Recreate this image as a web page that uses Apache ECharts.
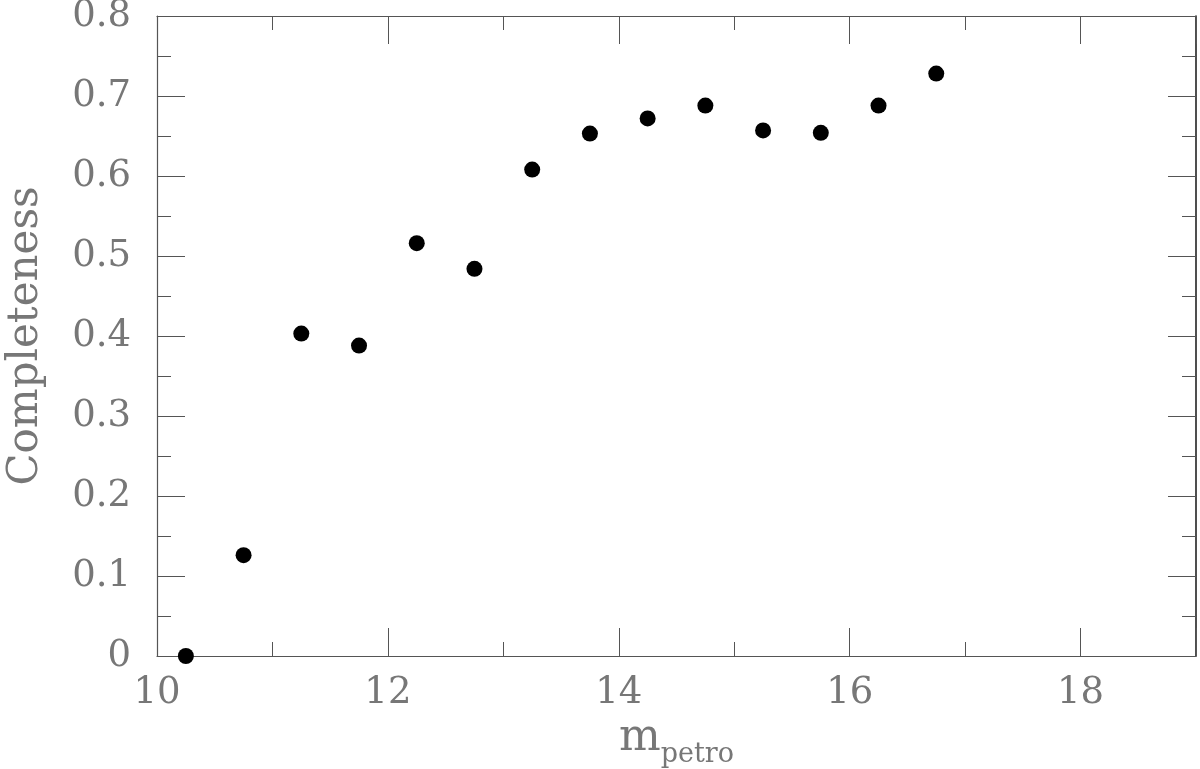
<!DOCTYPE html>
<html><head><meta charset="utf-8">
<script src="https://cdn.jsdelivr.net/npm/echarts@6/dist/echarts.min.js"></script>
<style>html,body{margin:0;padding:0;background:#fff}#c{width:1200px;height:769px}</style>
</head><body><div id="c"></div>
<script>
const magnitudes = [10.25, 10.75, 11.25, 11.75, 12.25, 12.75, 13.25, 13.75, 14.25, 14.75, 15.25, 15.75, 16.25, 16.75];
const completeness = [0.0, 0.126, 0.403, 0.388, 0.516, 0.484, 0.608, 0.653, 0.672, 0.688, 0.657, 0.654, 0.688, 0.728];
const xName = 'm';
const xSub = 'petro';
const yName = 'Completeness';

const fontFam = '"DejaVu Serif", "Liberation Serif", serif';
const axisCol = '#555';
const lblCol = '#777';

function xAxisCfg(show, pos) {
  return {
    type: 'value', min: 10, max: 19, interval: 2, position: pos,
    axisLine: {show: true, onZero: false, lineStyle: {color: axisCol, width: 1.2}},
    axisTick: {show: true, inside: true, length: 28, lineStyle: {color: axisCol, width: 1}},
    minorTick: {show: true, splitNumber: 2, length: 14, lineStyle: {color: axisCol, width: 1}},
    splitLine: {show: false},
    axisLabel: {show: show, color: lblCol, fontFamily: fontFam, fontSize: 37, margin: 19,
      formatter: v => (v >= 19 ? '' : String(v))},
    name: show ? '{m|' + xName + '}{s|' + xSub + '}' : '',
    nameLocation: 'middle', nameGap: 56,
    nameTextStyle: {rich: {
      m: {fontFamily: fontFam, fontSize: 44, color: lblCol, verticalAlign: 'bottom', lineHeight: 46},
      s: {fontFamily: fontFam, fontSize: 27, color: lblCol, verticalAlign: 'bottom', lineHeight: 46, padding: [0,0,-8,0]}
    }}
  };
}
function yAxisCfg(show, pos) {
  return {
    type: 'value', min: 0, max: 0.8, interval: 0.1, position: pos,
    axisLine: {show: true, onZero: false, lineStyle: {color: pos === 'right' ? '#222' : axisCol, width: pos === 'right' ? 1.6 : 1.2}},
    axisTick: {show: true, inside: true, length: 28, lineStyle: {color: axisCol, width: 1}},
    minorTick: {show: true, splitNumber: 2, length: 14, lineStyle: {color: axisCol, width: 1}},
    splitLine: {show: false},
    axisLabel: {show: show, color: lblCol, fontFamily: fontFam, fontSize: 37, margin: 26,
      formatter: v => (v === 0 ? '0' : v.toFixed(1))},
    name: show ? yName : '',
    nameLocation: 'middle', nameGap: 110,
    nameTextStyle: {fontFamily: fontFam, fontSize: 42, color: lblCol}
  };
}

const chart = echarts.init(document.getElementById('c'));
chart.setOption({
  animation: false,
  grid: {left: 157, right: 4, top: 16, bottom: 113, containLabel: false, outerBoundsMode: 'none'},
  xAxis: [xAxisCfg(true, 'bottom'), xAxisCfg(false, 'top')],
  yAxis: [yAxisCfg(true, 'left'), yAxisCfg(false, 'right')],
  series: [{
    type: 'scatter', xAxisIndex: 0, yAxisIndex: 0,
    symbol: 'circle', symbolSize: 16,
    itemStyle: {color: '#000', opacity: 1},
    data: magnitudes.map((m, i) => [m, completeness[i]])
  }]
});
</script></body></html>
